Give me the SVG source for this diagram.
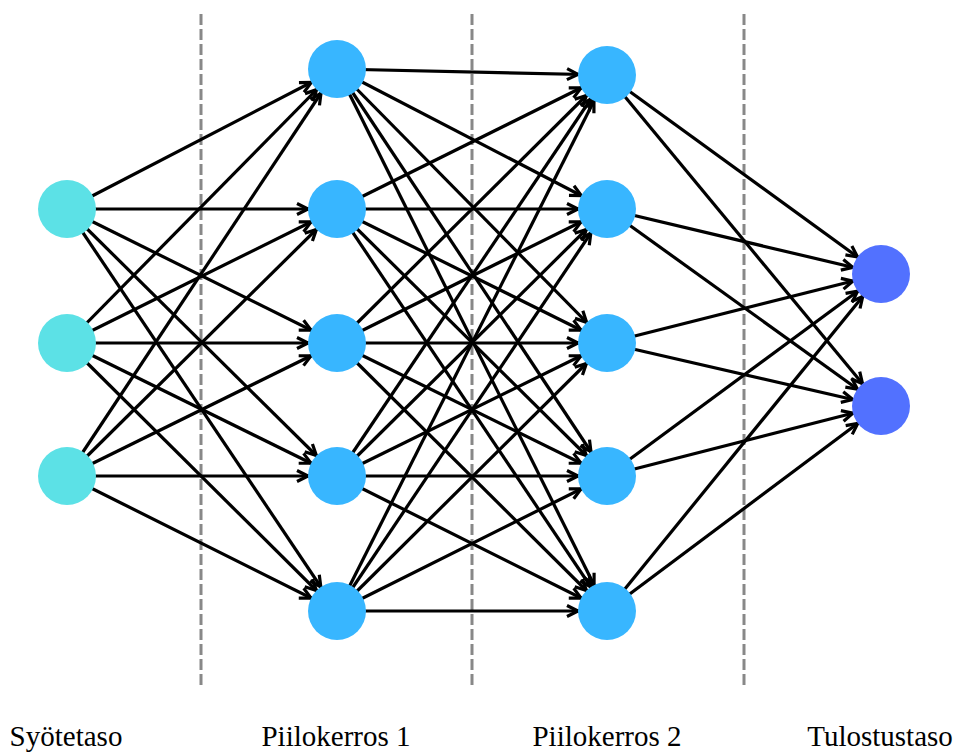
<svg xmlns="http://www.w3.org/2000/svg" width="958" height="753" viewBox="0 0 958 753">
<style>
.e{stroke:#000;stroke-width:3.2;marker-end:url(#a)}
.d{stroke:#888;stroke-width:3;stroke-dasharray:11 4}
.in{fill:#5CE1E6}.hd{fill:#38B6FF}.out{fill:#5271FF}
.lb{font-family:"Liberation Serif","Times New Roman",serif;font-size:29px;fill:#000;text-anchor:middle}
</style>
<defs>
<marker id="a" markerUnits="userSpaceOnUse" viewBox="-50 -10 60 20" refX="0" refY="0" markerWidth="60" markerHeight="20" orient="auto" overflow="visible">
<path d="M-40,-5.5 L-29,0 L-40,5.5" fill="none" stroke="#000" stroke-width="3.2"/>
</marker>
</defs>
<rect width="958" height="753" fill="#fff"/>
<g id="dividers">
<line class="d" x1="201" y1="14" x2="201" y2="686"/>
<line class="d" x1="472" y1="14" x2="472" y2="686"/>
<line class="d" x1="744" y1="14" x2="744" y2="686"/>
</g>
<g id="connectors">
<line class="e" x1="67" y1="209" x2="337" y2="69"/>
<line class="e" x1="67" y1="209" x2="337" y2="209"/>
<line class="e" x1="67" y1="209" x2="337" y2="343"/>
<line class="e" x1="67" y1="209" x2="337" y2="476"/>
<line class="e" x1="67" y1="209" x2="337" y2="611"/>
<line class="e" x1="67" y1="343" x2="337" y2="69"/>
<line class="e" x1="67" y1="343" x2="337" y2="209"/>
<line class="e" x1="67" y1="343" x2="337" y2="343"/>
<line class="e" x1="67" y1="343" x2="337" y2="476"/>
<line class="e" x1="67" y1="343" x2="337" y2="611"/>
<line class="e" x1="67" y1="476" x2="337" y2="69"/>
<line class="e" x1="67" y1="476" x2="337" y2="209"/>
<line class="e" x1="67" y1="476" x2="337" y2="343"/>
<line class="e" x1="67" y1="476" x2="337" y2="476"/>
<line class="e" x1="67" y1="476" x2="337" y2="611"/>
<line class="e" x1="337" y1="69" x2="607" y2="75"/>
<line class="e" x1="337" y1="69" x2="607" y2="209"/>
<line class="e" x1="337" y1="69" x2="607" y2="343"/>
<line class="e" x1="337" y1="69" x2="607" y2="476"/>
<line class="e" x1="337" y1="69" x2="607" y2="611"/>
<line class="e" x1="337" y1="209" x2="607" y2="75"/>
<line class="e" x1="337" y1="209" x2="607" y2="209"/>
<line class="e" x1="337" y1="209" x2="607" y2="343"/>
<line class="e" x1="337" y1="209" x2="607" y2="476"/>
<line class="e" x1="337" y1="209" x2="607" y2="611"/>
<line class="e" x1="337" y1="343" x2="607" y2="75"/>
<line class="e" x1="337" y1="343" x2="607" y2="209"/>
<line class="e" x1="337" y1="343" x2="607" y2="343"/>
<line class="e" x1="337" y1="343" x2="607" y2="476"/>
<line class="e" x1="337" y1="343" x2="607" y2="611"/>
<line class="e" x1="337" y1="476" x2="607" y2="75"/>
<line class="e" x1="337" y1="476" x2="607" y2="209"/>
<line class="e" x1="337" y1="476" x2="607" y2="343"/>
<line class="e" x1="337" y1="476" x2="607" y2="476"/>
<line class="e" x1="337" y1="476" x2="607" y2="611"/>
<line class="e" x1="337" y1="611" x2="607" y2="75"/>
<line class="e" x1="337" y1="611" x2="607" y2="209"/>
<line class="e" x1="337" y1="611" x2="607" y2="343"/>
<line class="e" x1="337" y1="611" x2="607" y2="476"/>
<line class="e" x1="337" y1="611" x2="607" y2="611"/>
<line class="e" x1="607" y1="75" x2="881" y2="274"/>
<line class="e" x1="607" y1="75" x2="881" y2="406"/>
<line class="e" x1="607" y1="209" x2="881" y2="274"/>
<line class="e" x1="607" y1="209" x2="881" y2="406"/>
<line class="e" x1="607" y1="343" x2="881" y2="274"/>
<line class="e" x1="607" y1="343" x2="881" y2="406"/>
<line class="e" x1="607" y1="476" x2="881" y2="274"/>
<line class="e" x1="607" y1="476" x2="881" y2="406"/>
<line class="e" x1="607" y1="611" x2="881" y2="274"/>
<line class="e" x1="607" y1="611" x2="881" y2="406"/>
</g>
<g id="i1"><circle class="in" cx="67" cy="209" r="29"/></g>
<g id="i2"><circle class="in" cx="67" cy="343" r="29"/></g>
<g id="i3"><circle class="in" cx="67" cy="476" r="29"/></g>
<g id="h1a"><circle class="hd" cx="337" cy="69" r="29"/></g>
<g id="h1b"><circle class="hd" cx="337" cy="209" r="29"/></g>
<g id="h1c"><circle class="hd" cx="337" cy="343" r="29"/></g>
<g id="h1d"><circle class="hd" cx="337" cy="476" r="29"/></g>
<g id="h1e"><circle class="hd" cx="337" cy="611" r="29"/></g>
<g id="h2a"><circle class="hd" cx="607" cy="75" r="29"/></g>
<g id="h2b"><circle class="hd" cx="607" cy="209" r="29"/></g>
<g id="h2c"><circle class="hd" cx="607" cy="343" r="29"/></g>
<g id="h2d"><circle class="hd" cx="607" cy="476" r="29"/></g>
<g id="h2e"><circle class="hd" cx="607" cy="611" r="29"/></g>
<g id="o1"><circle class="out" cx="881" cy="274" r="29"/></g>
<g id="o2"><circle class="out" cx="881" cy="406" r="29"/></g>
<g id="labels">
<text class="lb" x="66" y="746">Syötetaso</text>
<text class="lb" x="336" y="746">Piilokerros 1</text>
<text class="lb" x="607" y="746">Piilokerros 2</text>
<text class="lb" x="880" y="746">Tulostustaso</text>
</g>
</svg>
